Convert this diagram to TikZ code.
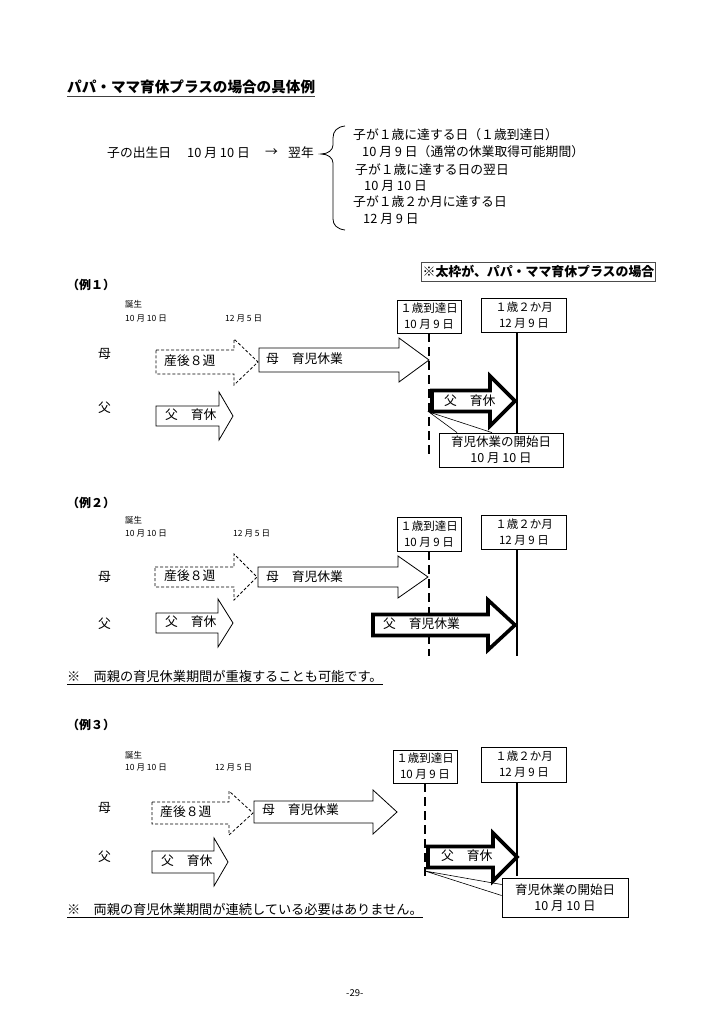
\documentclass[tikz,border=0pt]{standalone}
\usepackage{fontspec}
\setmainfont{Noto Sans CJK JP}
\usepackage{tikz}
\usetikzlibrary{positioning}

% block arrow: [style]{left}{head base}{tip}{y}{half body}{half head}
\newcommand{\blockarrow}[7][]{%
  \filldraw[fill=white,#1] (#2,#5-#6) -- (#3,#5-#6) -- (#3,#5-#7) -- (#4,#5)
    -- (#3,#5+#7) -- (#3,#5+#6) -- (#2,#5+#6) -- cycle;}

\begin{document}
\begin{tikzpicture}[x=1pt,y=-1pt,
    txt/.style={anchor=west,inner sep=0pt,font=\fontsize{12.8}{15}\selectfont},
    note/.style={anchor=west,inner sep=0pt,font=\fontsize{13.2}{15}\selectfont},
    small/.style={anchor=west,inner sep=0pt,font=\fontsize{8.5}{10}\selectfont},
    exlabel/.style={anchor=west,inner sep=0pt,font=\bfseries\fontsize{12}{14}\selectfont},
    datebox/.style={draw,line width=0.8,align=center,inner sep=0pt,
      font=\fontsize{11.5}{16}\selectfont},
    openbox/.style={draw,line width=0.8,align=center,inner sep=0pt,fill=white,
      font=\fontsize{12.5}{16}\selectfont},
    plain/.style={line width=0.8,line join=miter},
    waitarrow/.style={line width=0.8,dash pattern=on 3pt off 2pt},
    plusarrow/.style={line width=3.6,line join=miter},
    limitline/.style={line width=2.2,dash pattern=on 9pt off 5pt},
    endline/.style={line width=1.6},
    pointer/.style={line width=0.6}]

  \fill[white] (0,0) rectangle (724,1024);
  \useasboundingbox (0,0) rectangle (724,1024);

  % title
  \node[anchor=west,inner sep=0pt,font=\bfseries\fontsize{14.6}{17}\selectfont] (title) at (67,87)
    {パパ・ママ育休プラスの場合の具体例};
  \draw[line width=1.4,black!75] ([yshift=-2pt]title.south west) -- ([yshift=-2pt]title.south east);

  % birthday and the dates of the next year
  \node[txt] (birth) at (107,153) {子の出生日};
  \node[txt] (bday) at (187,153) {10 月 10 日};
  \node[txt] (arr) at (265,153) {→};
  \node[txt] (nextyear) at (288,153) {翌年};
  \draw[line width=0.8] (345,126) .. controls (337,127) and (333,131) .. (333,138)
    -- (333,145) .. controls (333,150) and (328,154) .. (321,154)
    .. controls (328,154) and (333,158) .. (333,163)
    -- (333,219) .. controls (333,225) and (337,229) .. (345,230);
  \node[txt] (l1) at (353,135) {子が１歳に達する日（１歳到達日）};
  \node[txt] (l2) at (362,152) {10 月 9 日（通常の休業取得可能期間）};
  \node[txt] (l3) at (355,170) {子が１歳に達する日の翌日};
  \node[txt] (l4) at (364,186) {10 月 10 日};
  \node[txt] (l5) at (353,202) {子が１歳２か月に達する日};
  \node[txt] (l6) at (363,219) {12 月 9 日};

  \node[draw=black!70,line width=0.8,inner xsep=1.5pt,inner ysep=0pt,minimum height=19,
    font=\bfseries\fontsize{12.9}{15}\selectfont] (plusnote) at (538.5,271.5)
    {※太枠が、パパ・ママ育休プラスの場合};

  % 例1
  \node[exlabel] (ex1) at (67,285) {（例１）};
  \node[small] (born1) at (125,304) {誕生};
  \node[small] (bdate1) at (125,318) {10 月 10 日};
  \node[small] (wk1) at (225,318) {12 月 5 日};
  \node[datebox,minimum width=64,minimum height=33] (reach1) at (429,316.5) {１歳到達日\\10 月 9 日};
  \node[datebox,minimum width=85,minimum height=34] (twoyear1) at (524,315) {１歳２か月\\12 月 9 日};
  \node[txt] (mom1) at (98,354) {母};
  \node[txt] (dad1) at (98,408) {父};
  \blockarrow[waitarrow]{156}{234}{258}{362}{12}{23}
  \node[txt] (wait1) at (164,361) {産後８週};
  \blockarrow[plain]{259}{399}{429}{360}{12}{22}
  \node[txt] (momleave1) at (266,359) {母\quad 育児休業};
  \blockarrow[plain]{156}{219}{233}{416}{10}{24}
  \node[txt] (dadleave1) at (165,415) {父\quad 育休};
  \coordinate (limitend1) at (429,456);
  \coordinate (end1) at (517,433);
  \draw[limitline] (reach1.south) -- (limitend1);
  \draw[endline] (twoyear1.south -| end1) -- (end1);
  \blockarrow[plusarrow]{432}{490}{515}{401}{10.5}{25}
  \node[txt] (plus1) at (444,401) {父\quad 育休};
  \node[openbox,minimum width=124,minimum height=34] (open1) at (501,450) {育児休業の開始日\\10 月 10 日};
  \coordinate (start1) at (429,412);
  \draw[pointer] ([xshift=-44pt]open1.north) -- (start1) -- ([xshift=-9pt]open1.north);

  % 例2
  \node[exlabel] (ex2) at (67,503) {（例２）};
  \node[small] (born2) at (125,520) {誕生};
  \node[small] (bdate2) at (125,533) {10 月 10 日};
  \node[small] (wk2) at (233,533) {12 月 5 日};
  \node[datebox,minimum width=64,minimum height=34] (reach2) at (429,534) {１歳到達日\\10 月 9 日};
  \node[datebox,minimum width=85,minimum height=34] (twoyear2) at (524,532) {１歳２か月\\12 月 9 日};
  \node[txt] (mom2) at (98,577) {母};
  \node[txt] (dad2) at (98,624) {父};
  \blockarrow[waitarrow]{155}{234}{257}{577}{10}{23}
  \node[txt] (wait2) at (164,576) {産後８週};
  \blockarrow[plain]{258}{398}{428}{577}{10}{21}
  \node[txt] (momleave2) at (266,577) {母\quad 育児休業};
  \blockarrow[plain]{156}{218}{233}{623}{10}{24}
  \node[txt] (dadleave2) at (165,622) {父\quad 育休};
  \coordinate (limitend2) at (429,656);
  \coordinate (end2) at (517,656);
  \draw[limitline] (reach2.south) -- (limitend2);
  \draw[endline] (twoyear2.south -| end2) -- (end2);
  \blockarrow[plusarrow]{373}{488}{515}{625}{10.5}{25}
  \node[txt] (plus2) at (383,624) {父\quad 育児休業};
  \node[note] (note2) at (67,676) {※\quad 両親の育児休業期間が重複することも可能です。};
  \draw[line width=0.8] ([yshift=-2pt]note2.south west) -- ([yshift=-2pt]note2.south east);

  % 例3
  \node[exlabel] (ex3) at (67,725) {（例３）};
  \node[small] (born3) at (125,755) {誕生};
  \node[small] (bdate3) at (125,767) {10 月 10 日};
  \node[small] (wk3) at (215,767) {12 月 5 日};
  \node[datebox,minimum width=64,minimum height=33] (reach3) at (425,766.5) {１歳到達日\\10 月 9 日};
  \node[datebox,minimum width=85,minimum height=35] (twoyear3) at (524,764.5) {１歳２か月\\12 月 9 日};
  \node[txt] (mom3) at (98,808) {母};
  \node[txt] (dad3) at (98,857) {父};
  \blockarrow[waitarrow]{152}{229}{253}{813}{11}{22}
  \node[txt] (wait3) at (160,812) {産後８週};
  \blockarrow[plain]{254}{373}{397}{812}{11}{22}
  \node[txt] (momleave3) at (262,810) {母\quad 育児休業};
  \blockarrow[plain]{152}{214}{228}{862}{11}{24}
  \node[txt] (dadleave3) at (161,861) {父\quad 育休};
  \coordinate (limitend3) at (425,880);
  \coordinate (end3) at (517,876);
  \draw[limitline] (reach3.south) -- (limitend3);
  \draw[endline] (twoyear3.south -| end3) -- (end3);
  \blockarrow[plusarrow]{428}{493}{517}{857}{10.5}{24}
  \node[txt] (plus3) at (441,856) {父\quad 育休};
  \node[openbox,minimum width=126,minimum height=39] (open3) at (565,897.5) {育児休業の開始日\\10 月 10 日};
  \coordinate (start3) at (425,871);
  \draw[pointer] ([yshift=13pt]open3.west) -- (start3) -- ([yshift=2pt]open3.west);
  \node[note] (note3) at (67,909) {※\quad 両親の育児休業期間が連続している必要はありません。};
  \draw[line width=0.8] ([yshift=-2pt]note3.south west) -- ([yshift=-2pt]note3.south east);

  \node[small,font=\fontsize{9.5}{11}\selectfont] (page) at (346,993) {-29-};
\end{tikzpicture}
\end{document}
